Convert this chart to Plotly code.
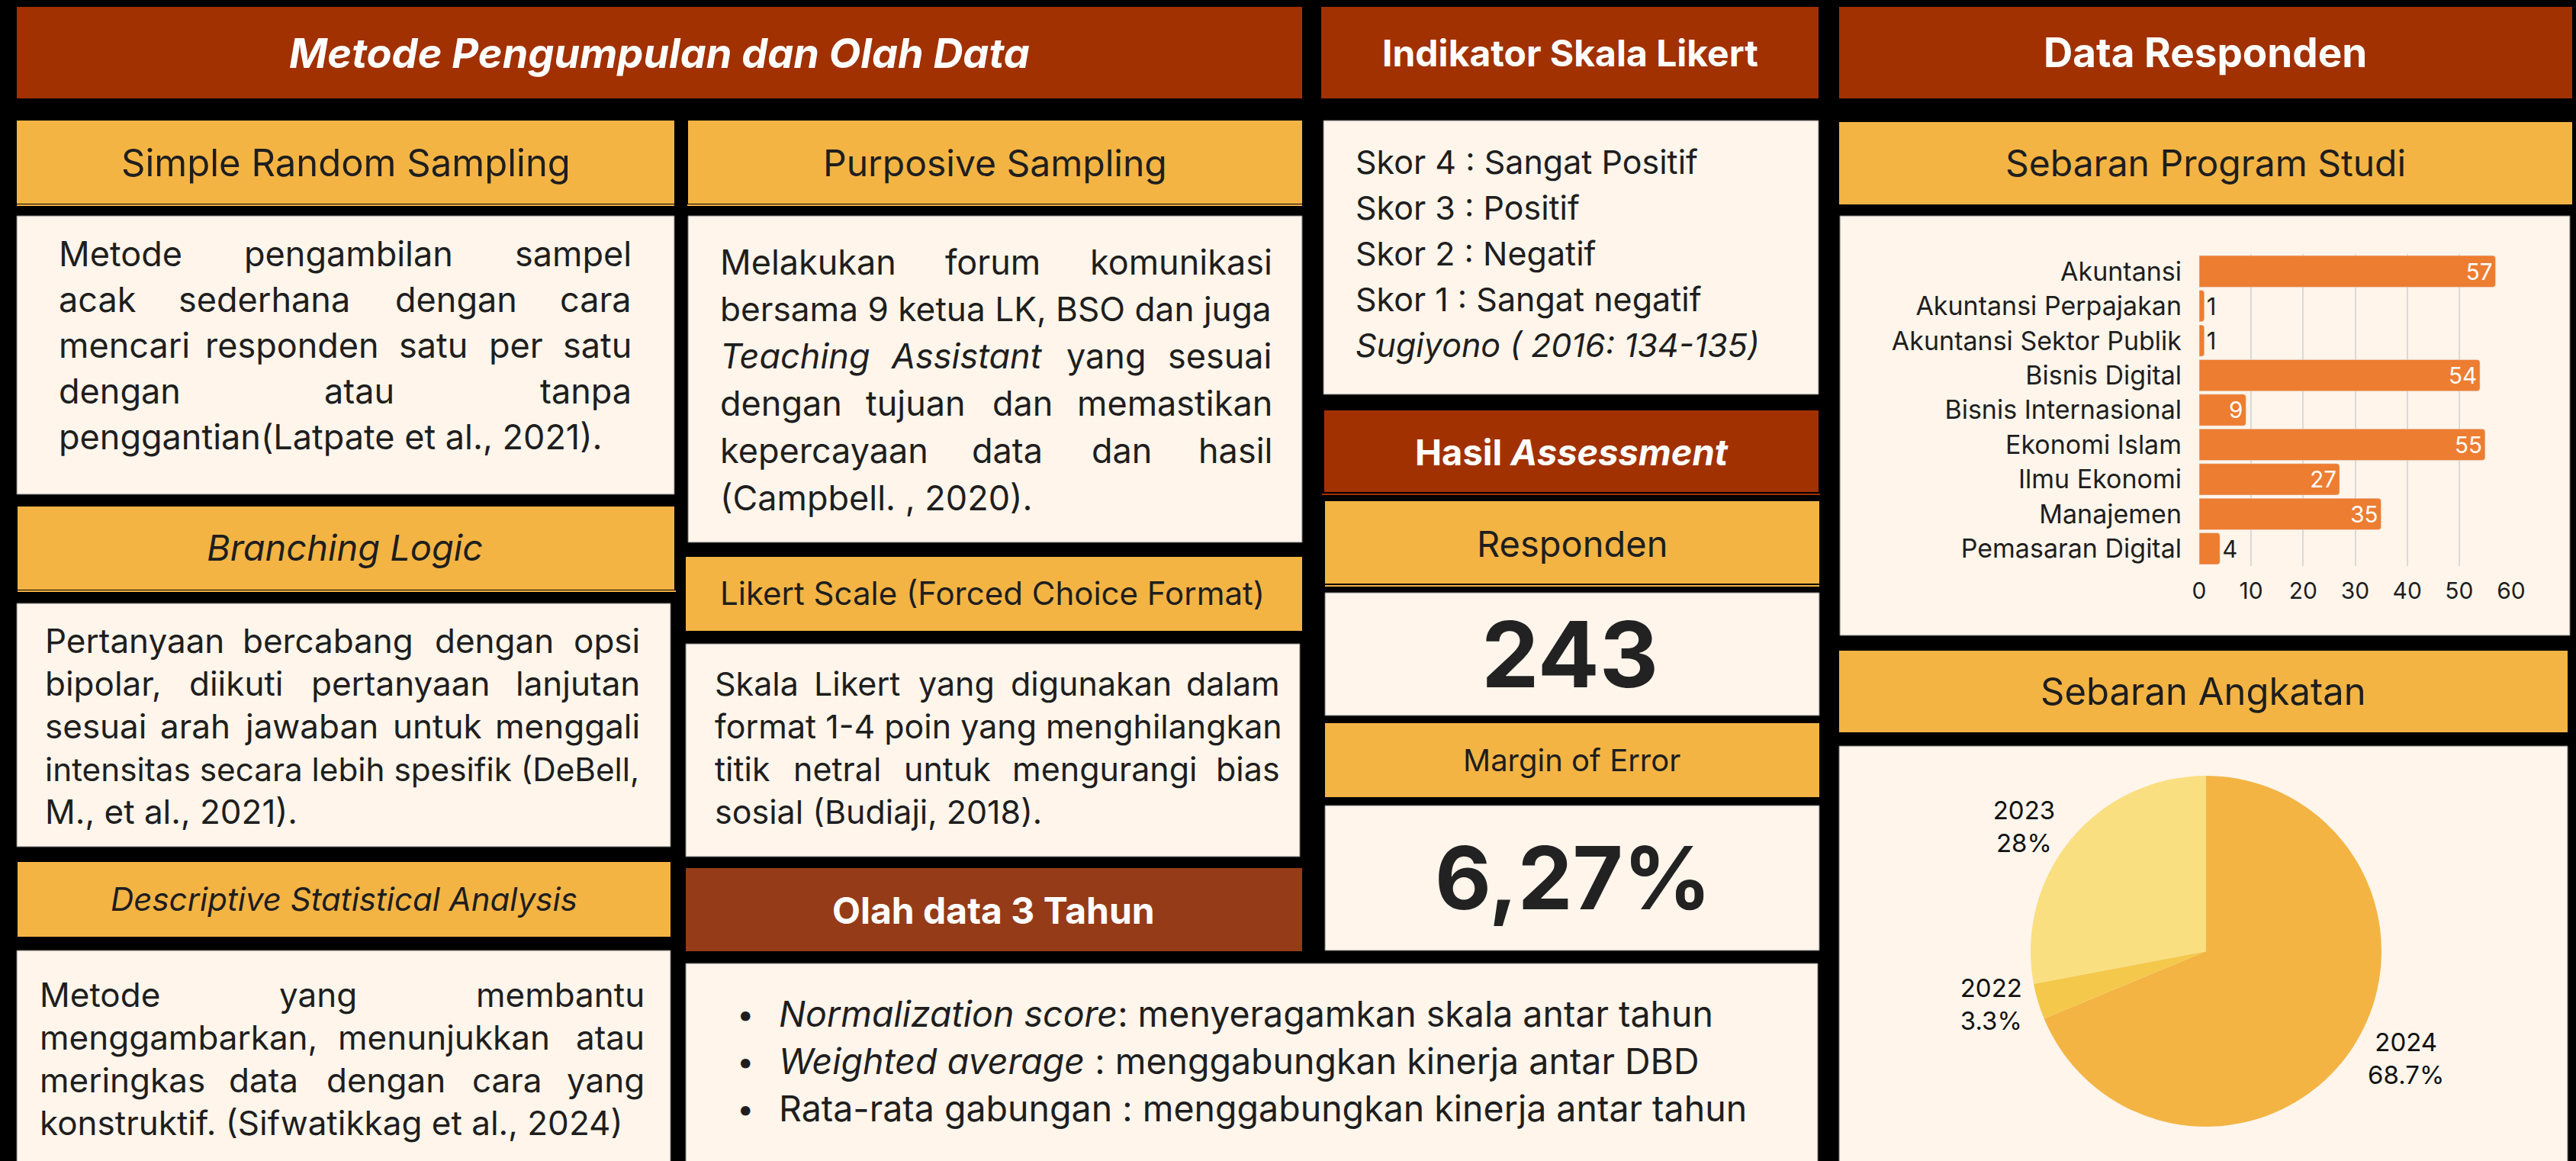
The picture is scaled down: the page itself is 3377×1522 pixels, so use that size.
import re
import plotly.graph_objects as go

W, H = 3377, 1522

# ---------------- data ----------------
prodi = ["Akuntansi", "Akuntansi Perpajakan", "Akuntansi Sektor Publik", "Bisnis Digital",
         "Bisnis Internasional", "Ekonomi Islam", "Ilmu Ekonomi", "Manajemen", "Pemasaran Digital"]
prodi_count = [57, 1, 1, 54, 9, 55, 27, 35, 4]
bar_ticks = [0, 10, 20, 30, 40, 50, 60]

angkatan = ["2024", "2022", "2023"]
angkatan_count = [167, 8, 68]

total_responden = "243"
margin_error = "6,27%"

srs_lines = ["Metode pengambilan sampel", "acak sederhana dengan cara",
             "mencari responden satu per satu", "dengan atau tanpa",
             "penggantian(Latpate et al., 2021)."]
purp_lines = ["Melakukan forum komunikasi", "bersama 9 ketua LK, BSO dan juga",
              "<i>Teaching</i> <i>Assistant</i> yang sesuai", "dengan tujuan dan memastikan",
              "kepercayaan data dan hasil", "(Campbell. , 2020)."]
branch_lines = ["Pertanyaan bercabang dengan opsi", "bipolar, diikuti pertanyaan lanjutan",
                "sesuai arah jawaban untuk menggali", "intensitas secara lebih spesifik (DeBell,",
                "M., et al., 2021)."]
desc_lines = ["Metode yang membantu", "menggambarkan, menunjukkan atau",
              "meringkas data dengan cara yang", "konstruktif. (Sifwatikkag et al., 2024)"]
likert_lines = ["Skala Likert yang digunakan dalam", "format 1-4 poin yang menghilangkan",
                "titik netral untuk mengurangi bias", "sosial (Budiaji, 2018)."]
skor_lines = ["Skor 4 : Sangat Positif", "Skor 3 : Positif", "Skor 2 : Negatif",
              "Skor 1 : Sangat negatif", "<i>Sugiyono ( 2016: 134-135)</i>"]
bullet_lines = ["<i>Normalization score</i>: menyeragamkan skala antar tahun",
                "<i>Weighted average</i> : menggabungkan kinerja antar DBD",
                "Rata-rata gabungan : menggabungkan kinerja antar tahun"]

# ---------------- styling ----------------
FONT = "Inter, 'Open Sans', sans-serif"
RED = "#A13100"
BROWN = "#953B18"
GOLD = "#F3B444"
CREAM = "#FFF5EB"
INK = "#1E1E1E"
ORANGE = "#ED7D31"
PIE_COLORS = ["#F3B444", "#F4C84B", "#F9DF80"]


def px(x):
    return x / W


def py(y):
    return 1 - y / H


shapes = []
annotations = []


def box(x0, y0, x1, y1, color, border=None):
    shapes.append(dict(type="rect", xref="paper", yref="paper", layer="below",
                       x0=px(x0), x1=px(x1), y0=py(y1), y1=py(y0),
                       fillcolor=color,
                       line=dict(width=1 if border else 0, color=border or color)))


def rule(x0, x1, y, color):
    shapes.append(dict(type="line", xref="paper", yref="paper", layer="below",
                       x0=px(x0), x1=px(x1), y0=py(y), y1=py(y),
                       line=dict(width=2, color=color)))


def text(t, x, y, size, color=INK, anchor="center", bold=False):
    if bold:
        t = "<b>" + t + "</b>"
    annotations.append(dict(xref="paper", yref="paper", x=px(x), y=py(y), text=t,
                            showarrow=False, xanchor=anchor, yanchor="middle",
                            font=dict(family=FONT, size=size, color=color)))


LOWER = dict(a=.55, b=.6, c=.55, d=.6, e=.57, f=.35, g=.6, h=.58, i=.24, j=.24, k=.53,
             l=.24, m=.87, n=.58, o=.58, p=.6, q=.6, r=.37, s=.52, t=.36, u=.58, v=.53,
             w=.8, x=.52, y=.53, z=.52)
UPPER = dict(A=.68, B=.66, C=.72, D=.72, E=.6, F=.58, G=.74, H=.74, I=.28, J=.5, K=.66,
             L=.53, M=.88, N=.75, O=.77, P=.64, Q=.77, R=.65, S=.64, T=.63, U=.72, V=.68,
             W=.98, X=.66, Y=.65, Z=.62)
PUNCT = {" ": .28, ".": .27, ",": .27, ":": .27, ";": .27, "(": .36, ")": .36, "-": .42,
         "1": .42}


def char_w(c):
    if c in PUNCT:
        return PUNCT[c]
    if c in LOWER:
        return LOWER[c]
    if c in UPPER:
        return UPPER[c]
    if c.isdigit():
        return .62
    return .58


def tw(s, size):
    s = re.sub(r"<[^>]+>", "", s)
    return sum(char_w(c) for c in s) * size


def paragraph(lines, left, right, y0, step, size):
    avail = right - left
    for i, line in enumerate(lines):
        y = y0 + i * step
        words = line.split(" ")
        widths = [tw(w, size) for w in words]
        gap = (avail - sum(widths)) / max(len(words) - 1, 1)
        if i == len(lines) - 1:
            text(line, left, y, size, anchor="left")
            continue
        if gap < 0.45 * size:
            natural = tw(line, size) * 1.02
            s = size * min(1.0, avail / natural)
            text(line, left, y, s, anchor="left")
            continue
        pos = left
        for j, (w, wd) in enumerate(zip(words, widths)):
            if j == 0:
                text(w, left, y, size, anchor="left")
            elif j == len(words) - 1:
                text(w, right, y, size, anchor="right")
            else:
                text(w, pos + wd / 2, y, size, anchor="center")
            pos += wd + gap


# ---------------- boxes ----------------
box(22, 9, 1707, 129, RED)
box(1732, 9, 2384, 129, RED)
box(2411, 9, 3372, 129, RED)
box(22, 158, 884, 267, GOLD)
box(902, 158, 1707, 267, GOLD)
rule(22, 884, 269, GOLD)
rule(901, 1707, 269, GOLD)
box(22, 283, 884, 648, CREAM, "#777777")
box(902, 283, 1707, 711, CREAM, "#777777")
box(23, 664, 884, 773, GOLD)
rule(23, 886, 775, GOLD)
box(22, 791, 879, 1110, CREAM, "#777777")
box(23, 1130, 879, 1228, GOLD)
box(22, 1246, 879, 1530, CREAM, "#777777")
box(899, 730, 1707, 827, GOLD)
box(899, 844, 1704, 1123, CREAM, "#777777")
box(899, 1138, 1707, 1247, BROWN)
box(899, 1263, 2383, 1530, CREAM, "#777777")
box(1735, 158, 2384, 517, CREAM, "#777777")
box(1736, 538, 2384, 645, RED)
rule(1733, 2386, 648, RED)
box(1737, 657, 2385, 765, GOLD)
rule(1737, 2385, 768, GOLD)
box(1737, 777, 2385, 938, CREAM, "#777777")
box(1737, 948, 2385, 1045, GOLD)
box(1737, 1056, 2385, 1246, CREAM, "#777777")
box(2411, 160, 3372, 268, GOLD)
box(2412, 283, 3369, 833, CREAM, "#777777")
box(2411, 853, 3366, 960, GOLD)
box(2411, 978, 3366, 1530, CREAM, "#777777")

# ---------------- headings ----------------
text("<b><i>Metode Pengumpulan dan Olah Data</i></b>", 864, 69, 54, "white")
text("Indikator Skala Likert", 2058, 69, 48, "white", bold=True)
text("Data Responden", 2891, 69, 53, "white", bold=True)
text("Simple Random Sampling", 453, 213, 49)
text("Purposive Sampling", 1304, 213, 48)
text("Sebaran Program Studi", 2891, 213, 48)
text("<i>Branching Logic</i>", 452, 718, 47)
text("<i>Descriptive Statistical Analysis</i>", 451, 1178, 42)
text("Likert Scale (Forced Choice Format)", 1301, 777, 42)
text("Olah data 3 Tahun", 1302, 1193, 48, "white", bold=True)
text("<b>Hasil <i>Assessment</i></b>", 2060, 592, 47, "white")
text("Responden", 2061, 712, 47)
text(total_responden, 2058, 857, 120, "#222222", bold=True)
text("Margin of Error", 2060, 996, 40)
text(margin_error, 2062, 1150, 114, "#222222", bold=True)
text("Sebaran Angkatan", 2888, 907, 49)

# ---------------- body text ----------------
paragraph(srs_lines, 75, 830, 332, 60, 45)
paragraph(purp_lines, 942, 1670, 343, 61.8, 45)
paragraph(branch_lines, 57, 841, 840, 56, 44)
paragraph(desc_lines, 50, 847, 1304, 56, 44)
paragraph(likert_lines, 935, 1680, 896, 56, 43)
for i, line in enumerate(skor_lines):
    text(line, 1775, 212 + i * 60, 43, anchor="left")
for i, line in enumerate(bullet_lines):
    y = 1329 + i * 62
    text("•", 977, y, 40, anchor="center")
    text(line, 1019, y, 46.5, anchor="left")

# ---------------- traces ----------------
fig = go.Figure()

bar_pos = ["outside" if v < 5 else "inside" for v in prodi_count]
fig.add_trace(go.Bar(
    x=prodi_count, y=prodi, orientation="h", xaxis="x2", yaxis="y2",
    marker=dict(color=ORANGE, cornerradius=4),
    text=[str(v) for v in prodi_count], textposition=bar_pos,
    insidetextanchor="end", textangle=0,
    insidetextfont=dict(family=FONT, size=31, color="white"),
    outsidetextfont=dict(family=FONT, size=31, color=INK),
    cliponaxis=False, showlegend=False, hoverinfo="skip",
))

tot = sum(angkatan_count)
pct_txt = []
for lab, v in zip(angkatan, angkatan_count):
    s = f"{v / tot * 100:.1f}"
    if s.endswith(".0"):
        s = s[:-2]
    pct_txt.append(f"{lab}<br>{s}%")

cx, cy, r = 2892, 1247, 230
fig.add_trace(go.Pie(
    labels=angkatan, values=angkatan_count, text=pct_txt, textinfo="text",
    textposition="outside", sort=False, direction="clockwise", rotation=0,
    marker=dict(colors=PIE_COLORS, line=dict(width=0)),
    outsidetextfont=dict(family=FONT, size=33, color="#111111"),
    domain=dict(x=[px(cx - r), px(cx + r)], y=[py(cy + r), py(cy - r)]),
    showlegend=False, hoverinfo="skip",
))

fig.update_layout(
    width=W, height=H, margin=dict(l=0, r=0, t=0, b=0, pad=0, autoexpand=False),
    paper_bgcolor="black", plot_bgcolor="rgba(0,0,0,0)",
    font=dict(family=FONT, color=INK),
    bargap=0.09, showlegend=False,
    shapes=shapes, annotations=annotations,
    xaxis=dict(visible=False), yaxis=dict(visible=False),
    xaxis2=dict(domain=[px(2883), px(3292)], anchor="y2", range=[0, 60],
                tickvals=bar_ticks, showgrid=True, gridcolor="#D9D9D9", gridwidth=1.5,
                zeroline=False, showline=False, ticks="", automargin=False,
                tickfont=dict(family=FONT, size=30, color=INK), ticklabelstandoff=12,
                fixedrange=True),
    yaxis2=dict(domain=[py(742), py(333)], anchor="x2", type="category",
                categoryorder="array", categoryarray=prodi, autorange="reversed",
                showgrid=False, zeroline=False, showline=False, ticks="", automargin=False,
                tickfont=dict(family=FONT, size=34, color=INK), ticklabelstandoff=22,
                fixedrange=True),
)

page_fix = """
document.documentElement.style.margin='0';
document.body.style.margin='0';
document.body.style.overflow='hidden';
"""

fig.write_html("out.html", config={"displayModeBar": False}, post_script=page_fix)
